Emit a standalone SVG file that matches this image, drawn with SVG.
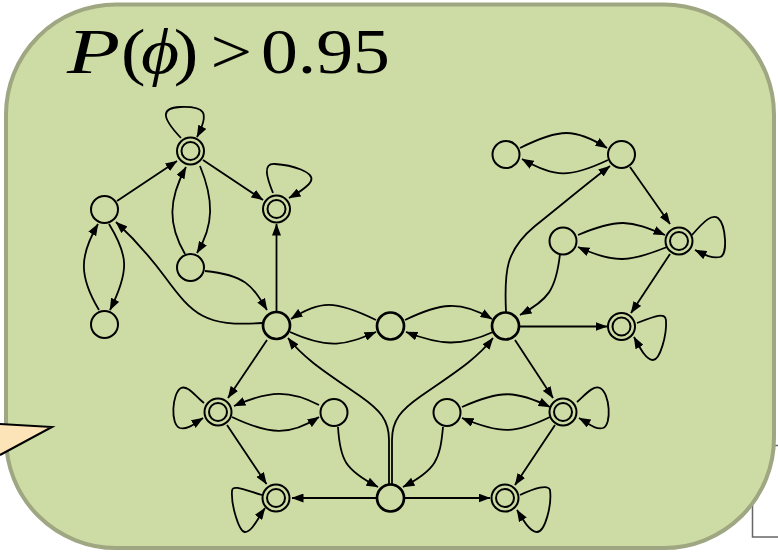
<svg xmlns="http://www.w3.org/2000/svg" width="778" height="552" viewBox="0 0 778 552">
<style>
.n{fill:none;stroke:#000;stroke-width:2}
.h{fill:none;stroke:#000;stroke-width:2.7}
.e{fill:none;stroke:#000;stroke-width:1.8;marker-end:url(#ar)}
.t{font-family:"Liberation Serif","Times New Roman",serif;font-size:63px;fill:#000}
</style>
<defs>
<marker id="ar" markerUnits="userSpaceOnUse" markerWidth="12" markerHeight="9" viewBox="0 0 12 9" refX="11.5" refY="4.5" orient="auto">
<path d="M0,0 L12,4.5 L0,9 z" fill="#000"/>
</marker>
</defs>
<rect width="778" height="552" fill="#fff"/>
<rect x="752.5" y="445.5" width="40" height="91.5" fill="#fff" stroke="#666" stroke-width="1.5"/>
<rect id="panel" x="6" y="4.5" width="768" height="543.5" rx="110" ry="110" fill="#cddca4" stroke="#9fa682" stroke-width="4"/>
<g id="callout">
<polygon points="-20,423 52,427 -20,465" fill="#fde3b8"/>
<polyline points="0,424 52,427 0,455" fill="none" stroke="#000" stroke-width="2"/>
</g>
<g id="title">
<text class="t" transform="translate(65,73) scale(1.38,1)" x="1.5" y="0" font-style="italic">P</text>
<text class="t" transform="scale(1.17,1)" y="73"><tspan x="103.4">(</tspan><tspan x="120.5" font-style="italic">ϕ</tspan></text>
<text class="t" transform="scale(1.17,1)" y="73"><tspan x="148.5">)</tspan><tspan x="180">&gt;</tspan><tspan x="223">0.95</tspan></text>
</g>
<g id="edges">
<path class="e" d="M181,138 C160,116 162,108 180,107 C205,106 210,112 197,137"/>
<path class="e" d="M117,201 L177,161"/>
<path class="e" d="M203,160 L263,200"/>
<path class="e" d="M200,166 C214,200 214,225 197,253"/>
<path class="e" d="M185,254 C168,225 168,200 186,167"/>
<path class="e" d="M273,193 C267,178 262,163 275,164 C292,165 315,172 311,181 C308,187 298,193 289,198"/>
<path class="e" d="M276.5,311 L276.5,224"/>
<path class="e" d="M205,271 C245,275 252,285 267,310"/>
<path class="e" d="M262,323 C205,327 193,315 165,277 C145,250 130,235 116,222"/>
<path class="e" d="M109,224 C128,255 130,270 110,310"/>
<path class="e" d="M99,310 C78,275 80,255 98,224"/>
<path class="e" d="M290,332 C330,350 345,345 376,332"/>
<path class="e" d="M376,320 C335,300 320,300 291,319"/>
<path class="e" d="M405,320 C440,303 460,300 492,319"/>
<path class="e" d="M493,332 C460,347 440,345 406,332"/>
<path class="e" d="M560,254 C556,290 548,300 520,315"/>
<path class="e" d="M506,312 C504,270 506,250 535,226 C565,202 585,185 610,166"/>
<path class="e" d="M520,148 C560,128 575,128 607,148"/>
<path class="e" d="M608,160 C570,178 555,178 522,159"/>
<path class="e" d="M630,167 L670,224"/>
<path class="e" d="M578,235 C618,218 630,220 665,235"/>
<path class="e" d="M667,247 C630,262 615,264 578,247"/>
<path class="e" d="M692,235 C705,220 712,214 718,218 C726,225 728,255 720,257 C712,259 703,254 695,250"/>
<path class="e" d="M670,254 L631,313"/>
<path class="e" d="M520,326.5 L607,326.5"/>
<path class="e" d="M637,323 C655,316 665,312 666,320 C667,335 660,360 653,360 C646,360 640,348 634,337"/>
<path class="e" d="M267,340 L228,398"/>
<path class="e" d="M204,403 C195,396 188,385 181,388 C172,393 170,425 180,428 C188,430 195,423 203,418"/>
<path class="e" d="M319,405 C290,390 270,390 234,406"/>
<path class="e" d="M232,417 C270,435 290,436 319,417"/>
<path class="e" d="M227,425 L266.5,484"/>
<path class="e" d="M262,495 C245,490 232,484 232,491 C231,505 239,532 245,532 C252,532 258,518 265,508"/>
<path class="e" d="M376,498 L292,498"/>
<path class="e" d="M338,427 C340,460 345,470 378,487"/>
<path class="e" d="M443,427 C440,460 436,470 403,487"/>
<path class="e" d="M389,484 L389,440 C389,420 380,410 360,396 C330,375 305,360 288,338"/>
<path class="e" d="M392,484 L392,440 C392,420 401,410 421,396 C451,375 476,360 493,338"/>
<path class="e" d="M405,498 L490,498"/>
<path class="e" d="M515,340 L553,398"/>
<path class="e" d="M577,402 C585,395 593,385 600,388 C610,393 612,425 603,428 C595,430 588,423 579,418"/>
<path class="e" d="M462,407 C500,390 515,390 550,407"/>
<path class="e" d="M550,417 C515,434 500,434 462,418"/>
<path class="e" d="M555,425 L515,485"/>
<path class="e" d="M520,495 C535,488 548,484 550,490 C552,505 545,532 537,532 C530,532 523,520 517,510"/>
</g>
<g id="nA"><circle class="n" cx="190.5" cy="151" r="13.5"/><circle class="n" cx="190.5" cy="151" r="9"/></g>
<g id="nB"><circle class="n" cx="104.5" cy="209.5" r="13.5"/></g>
<g id="nC"><circle class="n" cx="276.5" cy="209" r="13.5"/><circle class="n" cx="276.5" cy="209" r="9"/></g>
<g id="nD"><circle class="n" cx="190.5" cy="267.5" r="13.5"/></g>
<g id="nE"><circle class="n" cx="104.5" cy="324.5" r="13.5"/></g>
<g id="nF"><circle class="h" cx="276.5" cy="325.5" r="13.5"/></g>
<g id="nM"><circle class="h" cx="390.5" cy="326" r="13.5"/></g>
<g id="nK"><circle class="h" cx="505.5" cy="326" r="13.5"/></g>
<g id="nG"><circle class="n" cx="506" cy="154.5" r="13.5"/></g>
<g id="nH"><circle class="n" cx="621.5" cy="154.5" r="13.5"/></g>
<g id="nI"><circle class="n" cx="563" cy="241" r="13.5"/></g>
<g id="nJ"><circle class="n" cx="679" cy="241" r="13.5"/><circle class="n" cx="679" cy="241" r="9"/></g>
<g id="nL"><circle class="n" cx="621.5" cy="326.5" r="13.5"/><circle class="n" cx="621.5" cy="326.5" r="9"/></g>
<g id="nS"><circle class="n" cx="218" cy="412" r="13.5"/><circle class="n" cx="218" cy="412" r="9"/></g>
<g id="nN"><circle class="n" cx="334" cy="412.5" r="13.5"/></g>
<g id="nO"><circle class="n" cx="447" cy="412.5" r="13.5"/></g>
<g id="nT"><circle class="n" cx="563" cy="412" r="13.5"/><circle class="n" cx="563" cy="412" r="9"/></g>
<g id="nQ"><circle class="n" cx="276" cy="498" r="13.5"/><circle class="n" cx="276" cy="498" r="9"/></g>
<g id="nP"><circle class="h" cx="390.5" cy="498" r="13.5"/></g>
<g id="nR"><circle class="n" cx="505" cy="498" r="13.5"/><circle class="n" cx="505" cy="498" r="9"/></g>
</svg>
